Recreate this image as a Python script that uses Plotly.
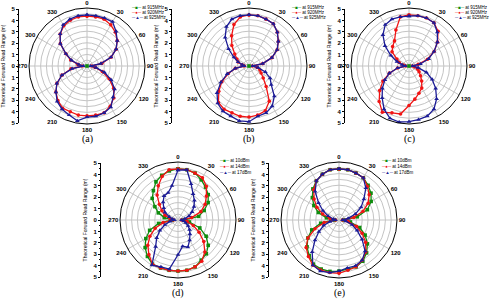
import plotly.graph_objects as go

W, H = 493, 301

angles = [0, 10, 20, 30, 40, 50, 60, 70, 80, 90, 100, 110, 120, 130, 140, 150, 160, 170,
          180, 190, 200, 210, 220, 230, 240, 250, 260, 270, 280, 290, 300, 310, 320, 330, 340, 350]
angle_ticks = [0, 30, 60, 90, 120, 150, 180, 210, 240, 270, 300, 330]
range_ticks = [-5, -4, -3, -2, -1, 0, 1, 2, 3, 4, 5]
range_ticktext = ["5", "4", "3", "2", "1", "0", "1", "2", "3", "4", "5"]

freq_labels = ["at 915MHz", "at 920MHz", "at 925MHz"]
power_labels = ["at 10dBm", "at 14dBm", "at 17dBm"]

# (a)
a_915 = [0.0]
a_920 = [4.3, 4.3, 4.3, 4.1, 3.8, 3.4, 2.9, 2.2, 1.3, 0.4, 0.7, 1.4, 2.2, 3.0, 3.6, 4.0, 4.3, 4.3,
         4.3, 4.3, 4.2, 4.2, 3.9, 3.5, 3.0, 2.3, 1.4, 0.4, 0.8, 1.5, 2.1, 3.0, 3.6, 4.0, 4.2, 4.3]
a_925 = [4.4, 4.4, 4.4, 4.4, 3.9, 3.4, 2.9, 2.2, 1.2, 0.3, 0.8, 1.6, 2.4, 3.1, 3.5, 4.1, 4.3, 4.4,
         4.4, 4.8, 4.5, 4.3, 4.0, 3.5, 3.0, 2.3, 1.3, 0.3, 0.7, 1.4, 2.1, 3.0, 3.6, 4.1, 4.3, 4.4]
# (b)
b_915 = [0.0]
b_920 = [4.4, 4.4, 4.3, 4.2, 3.8, 3.3, 2.8, 2.1, 1.2, 0.3, 0.7, 1.0, 1.2, 1.6, 2.3, 3.5, 4.1, 4.3,
         4.4, 4.4, 4.3, 4.3, 4.1, 3.4, 2.7, 1.9, 1.2, 0.4, 0.6, 1.0, 1.2, 1.6, 2.3, 3.0, 3.8, 4.3]
b_925 = [4.4, 4.4, 4.3, 4.2, 3.8, 3.3, 2.8, 2.1, 1.2, 0.3, 0.8, 1.5, 2.1, 2.5, 3.4, 4.0, 4.3, 4.4,
         4.8, 4.8, 4.6, 4.5, 4.2, 3.6, 2.8, 2.0, 1.2, 0.4, 0.6, 1.0, 1.5, 2.3, 3.2, 3.9, 4.3, 4.4]
# (c)
c_915 = [0.0]
c_920 = [4.4, 4.4, 4.4, 4.3, 3.9, 3.2, 2.5, 1.7, 0.8, 0.3, 0.5, 0.8, 1.0, 1.3, 1.7, 2.2, 2.5, 2.9,
         3.4, 4.2, 4.3, 4.6, 4.0, 3.3, 2.6, 1.8, 1.0, 0.3, 0.5, 0.9, 1.2, 1.9, 2.2, 2.5, 3.3, 4.3]
c_925 = [4.3, 4.4, 4.4, 4.3, 3.8, 3.2, 2.5, 1.8, 1.0, 0.3, 0.8, 1.6, 2.3, 3.0, 3.7, 4.3, 4.6, 4.7,
         4.8, 4.9, 4.8, 4.3, 3.6, 3.0, 2.4, 1.8, 1.0, 0.3, 0.6, 1.1, 1.8, 2.7, 3.5, 4.1, 4.3, 4.3]
# (d)
d_10 = [4.4, 4.4, 4.3, 4.0, 3.7, 3.4, 3.0, 2.4, 1.8, 0.5, 1.0, 2.0, 2.8, 3.4, 3.8, 4.0, 4.3, 4.4,
        4.4, 4.4, 4.4, 4.4, 4.1, 3.7, 3.2, 2.6, 1.7, 0.5, 1.2, 1.8, 2.3, 2.9, 3.3, 3.8, 4.1, 4.3]
d_14 = [4.4, 4.4, 4.3, 4.2, 3.8, 3.2, 2.7, 2.1, 1.2, 0.3, 0.8, 1.4, 2.1, 2.9, 3.6, 4.1, 4.3, 4.4,
        4.4, 4.4, 4.4, 4.4, 3.9, 3.4, 2.8, 2.1, 1.3, 0.4, 0.7, 1.2, 1.6, 2.1, 2.8, 3.4, 4.0, 4.4]
d_17 = [4.3, 4.4, 3.3, 2.6, 2.2, 1.8, 1.4, 1.0, 0.6, 0.3, 0.5, 0.7, 1.0, 1.3, 1.6, 2.0, 2.5, 2.3,
        3.0, 4.3, 4.3, 4.5, 3.0, 2.4, 1.8, 1.2, 0.7, 0.3, 0.5, 0.8, 1.3, 1.6, 2.0, 2.4, 2.5, 3.0]
# (e)
e_10 = [4.4, 4.4, 4.3, 4.2, 3.9, 3.6, 3.2, 2.6, 1.6, 0.4, 1.0, 1.9, 2.6, 3.2, 3.7, 4.1, 4.3, 4.3,
        4.4, 4.5, 4.5, 4.4, 4.0, 3.6, 3.1, 2.5, 1.6, 0.4, 1.1, 1.9, 2.5, 3.0, 3.5, 3.9, 4.2, 4.4]
e_14 = [4.4, 4.4, 4.3, 4.2, 3.8, 3.4, 2.9, 2.2, 1.3, 0.3, 0.8, 1.6, 2.3, 3.0, 3.6, 4.0, 4.3, 4.4,
        4.6, 4.6, 4.6, 4.5, 4.1, 3.7, 3.1, 2.2, 1.3, 0.3, 0.8, 1.5, 2.2, 2.8, 3.4, 3.9, 4.2, 4.4]
e_17 = [4.4, 4.4, 4.3, 4.2, 3.6, 2.8, 2.2, 1.5, 0.8, 0.3, 0.6, 1.2, 1.8, 2.6, 3.5, 4.0, 4.2, 4.2,
        4.4, 4.6, 4.7, 4.5, 3.6, 2.7, 2.0, 1.4, 0.8, 0.3, 0.5, 1.0, 1.6, 2.3, 3.2, 3.9, 4.2, 4.4]

GREEN, RED, BLUE = "#0e8c0e", "#f01414", "#1c1c96"
GRID = "#c4c4c4"
FONT = "Liberation Sans"

R = 58
panels = [
    ("(a)", 87, 66, 18, [a_915, a_920, a_925], freq_labels, 130, 7),
    ("(b)", 249, 66, 171, [b_915, b_920, b_925], freq_labels, 290, 7),
    ("(c)", 409, 66, 344, [c_915, c_920, c_925], freq_labels, 453, 7),
    ("(d)", 178, 220, 100, [d_10, d_14, d_17], power_labels, 218, 161),
    ("(e)", 339, 220, 268, [e_10, e_14, e_17], power_labels, 380, 161),
]

fig = go.Figure()
colors = [GREEN, RED, BLUE]
symbols = ["square", "circle", "triangle-up"]
glyphs = ["\u25a0", "\u25cf", "\u25b2"]

def closed(vals):
    if len(vals) == 1:
        return [0], vals
    return angles + [angles[0]], vals + [vals[0]]

annotations = []
layout = {}
for i, (lab, cx, cy, axx, series, labels, lgx, lgy) in enumerate(panels):
    k = "" if i == 0 else str(i + 1)
    pname = "polar" + k
    order = [1, 2, 0] if len(series[0]) == 1 else [0, 1, 2]
    for j in order:
        th, rr = closed(series[j])
        fig.add_trace(go.Scatterpolar(
            r=rr, theta=th, subplot=pname, mode="lines+markers", name=labels[j],
            line=dict(color=colors[j], width=1.3),
            marker=dict(symbol=symbols[j], size=3.6 if j != 2 else 4.2, color=colors[j]),
            showlegend=False))
    layout[pname] = dict(
        domain=dict(x=[(cx - R) / W, (cx + R) / W], y=[1 - (cy + R) / H, 1 - (cy - R) / H]),
        bgcolor="white",
        angularaxis=dict(rotation=90, direction="clockwise", tickmode="array",
                         tickvals=angle_ticks, ticktext=[str(t) for t in angle_ticks],
                         showline=True, linecolor="black", linewidth=1,
                         gridcolor=GRID, gridwidth=0.6, ticks="", ticklen=0,
                         tickfont=dict(size=6, color="black", family=FONT, weight="bold")),
        radialaxis=dict(range=[0, 5], dtick=0.5, showticklabels=False, showline=False,
                        ticks="", gridcolor=GRID, gridwidth=0.6),
    )
    xa, ya = "xaxis" + k, "yaxis" + k
    layout[xa] = dict(domain=[0, 0.01], visible=False, range=[0, 1])
    layout[ya] = dict(domain=[1 - (cy + 57) / H, 1 - (cy - 57) / H], anchor="free",
                      position=axx / W, range=[-5, 5], tickmode="array",
                      tickvals=range_ticks, ticktext=range_ticktext,
                      showline=True, linecolor="black", linewidth=0.8,
                      ticks="outside", ticklen=2, tickwidth=0.8, tickcolor="black",
                      minor=dict(ticks="outside", ticklen=1, dtick=0.5, tickcolor="black"),
                      showgrid=False, zeroline=False, automargin=False,
                      tickfont=dict(size=6, color="black", family=FONT, weight="bold"),
                      title=dict(text="Theoretical Forward Read Range (m)",
                                 font=dict(size=5, color="black", family=FONT), standoff=4))
    fig.add_trace(go.Scatter(x=[None], y=[None], xaxis="x" + k, yaxis="y" + k,
                             showlegend=False, hoverinfo="skip"))
    annotations.append(dict(text=lab, x=cx / W, y=1 - (cy + 73) / H, xref="paper", yref="paper",
                            showarrow=False, xanchor="center", yanchor="middle",
                            font=dict(size=10, family="Liberation Serif", color="black")))
    for j in range(3):
        annotations.append(dict(
            text=f"<span style='color:{colors[j]}'>\u2500{glyphs[j]}\u2500</span> {labels[j]}",
            x=lgx / W, y=1 - (lgy + 5.5 * j) / H, xref="paper", yref="paper",
            showarrow=False, xanchor="left", yanchor="middle", borderpad=0,
            font=dict(size=4.5, family=FONT, color="black")))

fig.update_layout(width=W, height=H, margin=dict(l=0, r=0, t=0, b=0),
                  paper_bgcolor="white", plot_bgcolor="white", template="none",
                  annotations=annotations, showlegend=False, **layout)

fig.write_html("out.html")
